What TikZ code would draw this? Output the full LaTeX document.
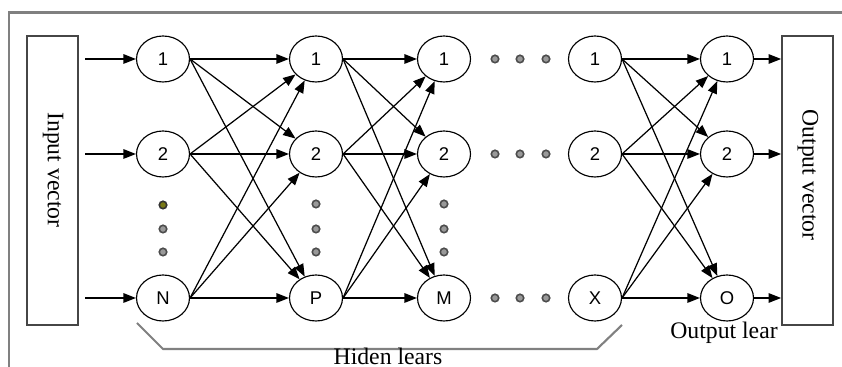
\documentclass[tikz,border=0pt]{standalone}
\usepackage{fontspec}
\setmainfont{Liberation Serif}
\newfontfamily\numfont{Liberation Sans}
\usepackage{xcolor}
\usetikzlibrary{positioning, shapes.geometric, arrows.meta}

\definecolor{framegray}{RGB}{128,128,128}
\definecolor{boxgray}{RGB}{70,70,70}
\definecolor{dotolive}{RGB}{120,120,20}

\tikzset{
  neuron/.style = {ellipse, draw, line width=0.65pt, minimum width=1.06cm,
                   minimum height=0.92cm, inner sep=0pt, font=\numfont\fontsize{10.5}{12}\selectfont},
  vecbox/.style = {draw=boxgray, line width=1pt, minimum width=1.02cm,
                   minimum height=5.78cm, inner sep=0pt},
  link/.style = {-{Triangle[length=0.25cm, width=0.19cm]}, line width=0.7pt},
  dot/.style = {circle, draw=black!70, fill=black!40, line width=0.9pt,
                minimum size=0.15cm, inner sep=0pt},
  caption/.style = {font=\fontsize{13.5}{15}\selectfont}
}

\begin{document}
\begin{tikzpicture}[x=0.02cm, y=-0.02cm]
\useasboundingbox (0, 0) rectangle (842, 367);
% frame and bracket
\draw [framegray, line width=1.7pt] (9, 367) -- (9, 13) -- (842, 13);
\draw [framegray, line width=1.2pt] (137, 323) -- (163, 349) -- (597, 349) -- (622, 325);
% vector boxes
\node [vecbox] (inbox) at (52.5, 180.5) {};
\node [vecbox] (outbox) at (807.5, 180.5) {};
\node [caption, rotate=-90] (intext) at (53, 170) {Input vector};
\node [caption, rotate=-90] (outtext) at (808, 175) {Output vector};
% input layer
\node [neuron] (i1) at (163, 59) {1};
\node [neuron] (i2) at (163, 154) {2};
\node [neuron] (i3) at (163, 298) {N};
% hidden layer P
\node [neuron] (h1) at (316, 59) {1};
\node [neuron] (h2) at (316, 154) {2};
\node [neuron] (h3) at (316, 298) {P};
% hidden layer M
\node [neuron] (k1) at (444, 59) {1};
\node [neuron] (k2) at (444, 154) {2};
\node [neuron] (k3) at (444, 298) {M};
% hidden layer X
\node [neuron] (x1) at (595, 59) {1};
\node [neuron] (x2) at (595, 154) {2};
\node [neuron] (x3) at (595, 298) {X};
% output layer
\node [neuron] (o1) at (727, 59) {1};
\node [neuron] (o2) at (727, 154) {2};
\node [neuron] (o3) at (727, 298) {O};
% input arrows
\coordinate (s1) at (85, 59);
\coordinate (s2) at (85, 154);
\coordinate (s3) at (85, 298);
\foreach \r in {1, 2, 3} {
  \draw [link] (s\r) -- (i\r);
  \draw [link] (o\r.east) -- (outbox.west |- o\r);
}
% full connections between layers
\foreach \a/\b in {i/h, h/k, x/o} {
  \foreach \s in {1, 2, 3} {
    \foreach \t in {1, 2, 3} {
      \draw [link] (\a\s.east) -- (\b\t);
    }
  }
}
% dots
\node [dot, fill=dotolive, draw=black!80] (d1) at (163, 205) {};
\node [dot] (d2) at (163, 229) {};
\node [dot] (d3) at (163, 252) {};
\foreach \c in {316, 444} {
  \foreach \y in {204, 229, 252} {
    \node [dot] at (\c, \y) {};
  }
}
\foreach \y in {59, 154, 298} {
  \foreach \c in {495, 520, 546} {
    \node [dot] at (\c, \y) {};
  }
}
% captions
\node [caption] (hidtext) at (388, 356) {Hiden lears};
\node [caption] (outlear) at (724, 333) {Output lear};
\end{tikzpicture}
\end{document}
